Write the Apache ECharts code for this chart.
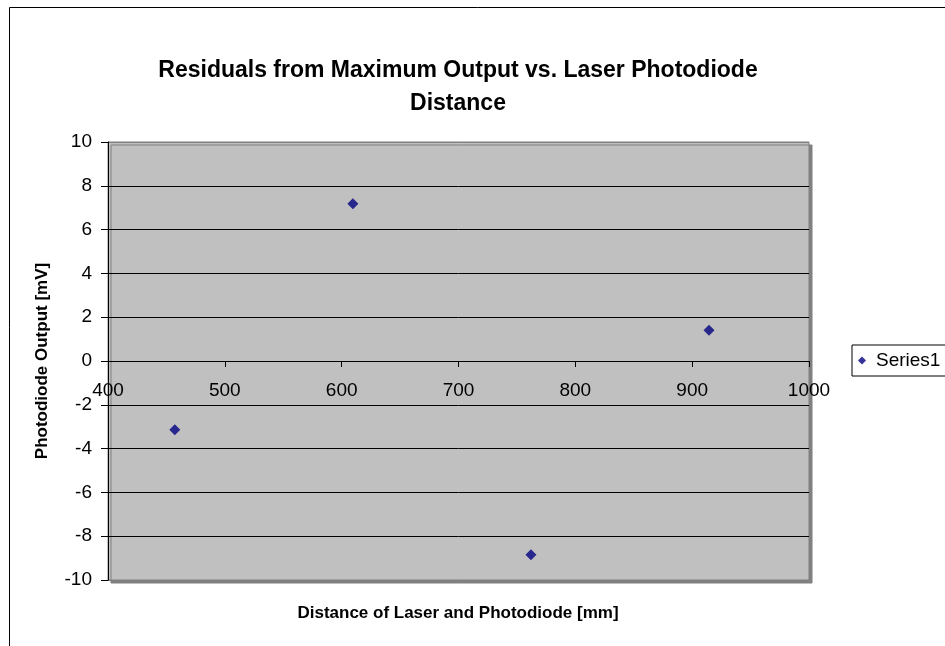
<!DOCTYPE html>
<html><head><meta charset="utf-8">
<script src="https://cdn.jsdelivr.net/npm/echarts@6/dist/echarts.min.js"></script>
<style>html,body{margin:0;padding:0;background:#fff}#c{width:945px;height:646px}</style>
</head><body><div id="c"></div>
<script>
var seriesName = 'Series1';
var distances = [457.2, 609.6, 762.0, 914.4];
var residuals = [-3.14, 7.18, -8.85, 1.40];
var titleLines = ['Residuals from Maximum Output vs. Laser Photodiode', 'Distance'];
var xTitle = 'Distance of Laser and Photodiode [mm]';
var yTitle = 'Photodiode Output [mV]';

var pts = distances.map(function(d,i){return [d, residuals[i]];});
var F = 'Liberation Sans, Arial, sans-serif';
var gridTop = 142, gridBottom = 66, H = 646;
var plotH = H - gridTop - gridBottom;
var gridColors = ['#808080','#000','#000','#000','#000','#000','#000','#000','#000','#000','#808080'];
var chart = echarts.init(document.getElementById('c'), null, {renderer:'canvas'});
chart.setOption({
  animation:false,
  backgroundColor:'#fff',
  grid:{left:108, right:136, top:gridTop, bottom:gridBottom, show:true, backgroundColor:'#c0c0c0', borderColor:'#808080', borderWidth:1,
        shadowColor:'#808080', shadowOffsetX:3, shadowOffsetY:3, shadowBlur:0},
  xAxis:{type:'value', min:400, max:1000, interval:100, offset:-plotH/2,
    axisLine:{onZero:false, lineStyle:{color:'#000', width:1}},
    axisTick:{show:true, inside:false, length:6, lineStyle:{color:'#000'}},
    axisLabel:{color:'#000', fontFamily:F, fontSize:19, margin:20, formatter:function(v){return String(v);}},
    splitLine:{show:false}},
  yAxis:{type:'value', min:-10, max:10, interval:2,
    name:yTitle, nameLocation:'middle', nameRotate:90, nameGap:57,
    nameTextStyle:{color:'#000', fontFamily:F, fontSize:17, fontWeight:'bold'},
    axisLine:{show:true, onZero:false, lineStyle:{color:'#000'}},
    axisTick:{show:true, length:7, lineStyle:{color:'#000'}},
    axisLabel:{color:'#000', fontFamily:F, fontSize:19, margin:16},
    splitLine:{show:true, lineStyle:{color:gridColors, width:1}}},
  legend:{show:true, data:[{name:seriesName, icon:'diamond'}], left:852, top:345, orient:'vertical',
    itemWidth:8, itemHeight:8, itemGap:4, padding:[6,20,6,6], borderColor:'#000', borderWidth:1, backgroundColor:'#fff',
    textStyle:{color:'#000', fontFamily:F, fontSize:19, padding:[0,0,0,5]}},
  graphic:[
    {type:'rect', left:7, top:5, shape:{width:1200, height:1000}, style:{fill:'none', stroke:'#000', lineWidth:1}, z:-10, silent:true},
    {type:'text', x:458, y:71, style:{text:titleLines[0], textAlign:'center', textVerticalAlign:'middle', font:'bold 23px '+F, fill:'#000'}},
    {type:'text', x:458, y:104, style:{text:titleLines[1], textAlign:'center', textVerticalAlign:'middle', font:'bold 23px '+F, fill:'#000'}},
    {type:'text', x:458, y:613, style:{text:xTitle, textAlign:'center', textVerticalAlign:'middle', font:'bold 17px '+F, fill:'#000'}}
  ],
  series:[{name:seriesName, type:'scatter', symbol:'diamond', symbolSize:11, data:pts, itemStyle:{color:'#000080'}}]
});
</script></body></html>
